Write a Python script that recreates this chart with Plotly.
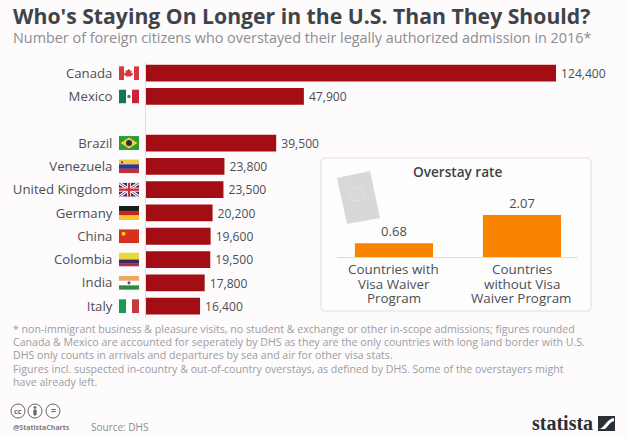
import base64
import plotly.graph_objects as go

W, H = 629, 438
countries = ["Canada", "Mexico", "Brazil", "Venezuela", "United Kingdom", "Germany",
             "China", "Colombia", "India", "Italy"]
overstays = [124400, 47900, 39500, 23800, 23500, 20200, 19600, 19500, 17800, 16400]
row_order = ["Canada", "Mexico", " ", "Brazil", "Venezuela", "United Kingdom", "Germany",
             "China", "Colombia", "India", "Italy"]
rate_groups = ["With VWP", "Without VWP"]
rate_group_lines = [["Countries with", "Visa Waiver", "Program"], ["Countries", "without Visa", "Waiver Program"]]
rates = [0.68, 2.07]
title = "Who's Staying On Longer in the U.S. Than They Should?"
subtitle = "Number of foreign citizens who overstayed their legally authorized admission in 2016*"
footnotes = [
    "* non-immigrant business &amp; pleasure visits, no student &amp; exchange or other in-scope admissions; figures rounded",
    "Canada &amp; Mexico are accounted for seperately by DHS as they are the only countries with long land border with U.S.",
    "DHS only counts in arrivals and departures by sea and air for other visa stats.",
    "Figures incl. suspected in-country &amp; out-of-country overstays, as defined by DHS. Some of the overstayers might",
    "have already left.",
]

FONT = "Open Sans"
def px(x): return x / W
def py(y): return 1 - y / H

def svg_uri(body, w=20, h=14):
    s = f'<svg xmlns="http://www.w3.org/2000/svg" width="{w}" height="{h}" viewBox="0 0 {w} {h}" preserveAspectRatio="none">{body}</svg>'
    return "data:image/svg+xml;base64," + base64.b64encode(s.encode()).decode()

def r(x, y, w, h, c): return f'<rect x="{x}" y="{y}" width="{w}" height="{h}" fill="{c}"/>'

flags = {
    "Canada": r(0,0,20,14,"#fff")+r(0,0,5,14,"#d8383f")+r(15,0,5,14,"#d8383f")+'<path d="M10 2.5l1.2 2 1.4-.5-.5 3 1.9-.6-.6 1.7.9.6-3 1.6h-3.6l-3-1.6.9-.6-.6-1.7 1.9.6-.5-3 1.4.5z" fill="#d8383f"/>',
    "Mexico": r(0,0,7,14,"#0f7a50")+r(7,0,6,14,"#fff")+r(13,0,7,14,"#c8223d")+'<circle cx="10" cy="7" r="1.7" fill="#7a6a3c"/>',
    "Brazil": r(0,0,20,14,"#2f9a3a")+'<path d="M10 1.5L18.5 7 10 12.5 1.5 7z" fill="#f4d622"/><circle cx="10" cy="7" r="3" fill="#1f2f5c"/>',
    "Venezuela": r(0,0,20,5,"#eccb42")+r(0,5,20,4.5,"#34348e")+r(0,9.5,20,4.5,"#c62b3c")+'<circle cx="3" cy="3" r="1.1" fill="#34348e"/>',
    "United Kingdom": r(0,0,20,14,"#2a3470")+'<path d="M0 0L20 14M20 0L0 14" stroke="#fff" stroke-width="3"/><path d="M0 0L20 14M20 0L0 14" stroke="#c8323f" stroke-width="1"/>'+r(8,0,4,14,"#fff")+r(0,5,20,4,"#fff")+r(8.8,0,2.4,14,"#c8323f")+r(0,5.8,20,2.4,"#c8323f"),
    "Germany": r(0,0,20,5,"#1c1c1c")+r(0,5,20,4.5,"#c9251c")+r(0,9.5,20,4.5,"#f6c42c"),
    "China": r(0,0,20,14,"#d5311f")+'<circle cx="4.5" cy="4.5" r="2" fill="#f4d020"/>',
    "Colombia": r(0,0,20,7,"#ecd73c")+r(0,7,20,3.5,"#3b2a60")+r(0,10.5,20,3.5,"#b82a48"),
    "India": r(0,0,20,5,"#eda868")+r(0,5,20,4.5,"#fff")+r(0,9.5,20,4.5,"#2f8a3c")+'<circle cx="10" cy="7" r="1.6" fill="#4a5a80"/>',
    "Italy": r(0,0,7,14,"#169a56")+r(7,0,6,14,"#fff")+r(13,0,7,14,"#c23a44"),
}
ROW_TOP, ROW_H = 61.5, 23.3

images = []
for i, c in enumerate(row_order):
    if c in flags:
        yc = ROW_TOP + ROW_H * (i + 0.5)
        images.append(dict(source=svg_uri(flags[c]), xref="paper", yref="paper", x=px(119), y=py(yc - 7),
                           sizex=20 / W, sizey=14 / H, sizing="stretch", xanchor="left", yanchor="top", layer="above"))
passport = ('<path d="M0 7L33 0L43 47L10 53z" fill="#d8d8da"/>'
            '<circle cx="20" cy="23" r="7" fill="none" stroke="#e4e4e6" stroke-width="1"/>')
images.append(dict(source=svg_uri(passport, 43, 53), xref="paper", yref="paper", x=px(337), y=py(171),
                   sizex=43 / W, sizey=53 / H, sizing="stretch", xanchor="left", yanchor="top", layer="above"))
person = '<circle cx="7" cy="3.6" r="1.4" fill="#666"/><rect x="5.4" y="5.4" width="3.2" height="6" rx="0.8" fill="#666"/>'
images.append(dict(source=svg_uri(person, 14, 14), xref="paper", yref="paper", x=px(28), y=py(404),
                   sizex=14 / W, sizey=14 / H, sizing="stretch", xanchor="left", yanchor="top", layer="above"))
logo = '<rect width="17" height="15" fill="#2a2f36"/><path d="M1 13C6 13 8 3 16 2L16 5C11 6 9 13 6 13z" fill="#fff"/>'
images.append(dict(source=svg_uri(logo, 17, 15), xref="paper", yref="paper", x=px(598), y=py(416),
                   sizex=17 / W, sizey=15 / H, sizing="stretch", xanchor="left", yanchor="top", layer="above"))

fig = go.Figure()
fig.add_trace(go.Bar(y=countries, x=overstays, orientation="h", marker=dict(color="#a30d14", line_width=0),
                     width=0.72, text=[f"\u2009{v:,}" for v in overstays],
                     textposition="outside", cliponaxis=False,
                     textfont=dict(family=FONT, size=13, color="#4c4f55"), xaxis="x", yaxis="y", showlegend=False))
fig.add_trace(go.Bar(x=rate_groups, y=rates, marker=dict(color="#f98400", line_width=0), width=0.61,
                     text=[f"{v:.2f}" for v in rates], textposition="outside", cliponaxis=False,
                     textfont=dict(family=FONT, size=13, color="#4c4f55"), xaxis="x2", yaxis="y2", showlegend=False))

def note(x, y, text, size=12, color="#4c4f55", anchor="left", family=FONT, weight=None):
    f = dict(family=family, size=size, color=color)
    if weight:
        f["weight"] = weight
    return dict(xref="paper", yref="paper", x=px(x), y=py(y), text=text, showarrow=False, xanchor=anchor,
                yanchor="middle", font=f, align=anchor)

annotations = [
    note(11, 15, f"<b>{title}</b>", 21.2, "#404348"),
    note(11, 37.5, subtitle, 14.4, "#8b8d92"),
    note(457, 171, "Overstay rate", 13.6, "#3f4247", "center", weight=600),
    note(89, 427, "Source: DHS", 10, "#8a8c90"),
    note(11, 427, "<b>@StatistaCharts</b>", 7, "#7b7d82"),
    note(18, 411, "<b>cc</b>", 7.5, "#666", "center"),
    note(53, 410.5, "<b>=</b>", 9, "#666", "center"),
    note(595, 423, "<b>statista</b>", 20, "#2a2f36", "right", family="Liberation Sans Narrow"),
]
for i, line in enumerate(footnotes):
    annotations.append(note(11, 329 + i * 13.2, line, 10.6, "#9c9da1"))
for group, lines in zip(rate_groups, rate_group_lines):
    for i, line in enumerate(lines):
        a = note(0, 269 + i * 14.6, line, 13.4, "#4c4f55", "center")
        a.update(xref="x2", x=group)
        annotations.append(a)

L, T, R_, B, C = px(321), py(158), px(591), py(311), 5
cx_, cy_ = C / W, C / H
panel = (f"M{L+cx_},{T} L{R_-cx_},{T} Q{R_},{T} {R_},{T-cy_} L{R_},{B+cy_} Q{R_},{B} {R_-cx_},{B} "
         f"L{L+cx_},{B} Q{L},{B} {L},{B+cy_} L{L},{T-cy_} Q{L},{T} {L+cx_},{T} Z")
shapes = [dict(type="path", xref="paper", yref="paper", path=panel,
               line=dict(color="#e8e0e4", width=1.2), fillcolor="#fefdfe", layer="below")]
for cx in (18, 35, 53):
    shapes.append(dict(type="circle", xref="paper", yref="paper", x0=px(cx - 7), x1=px(cx + 7),
                       y0=py(404), y1=py(418), line=dict(color="#666", width=1), fillcolor="rgba(0,0,0,0)"))

fig.update_layout(
    width=W, height=H, margin=dict(l=0, r=0, t=0, b=0), autosize=False,
    paper_bgcolor="#fdfbfc", plot_bgcolor="rgba(0,0,0,0)",
    annotations=annotations, shapes=shapes, images=images,
    xaxis=dict(domain=[px(146), 1], range=[0, 146550], visible=False, fixedrange=True),
    yaxis=dict(domain=[py(ROW_TOP + ROW_H * len(row_order)), py(ROW_TOP)], type="category",
               categoryorder="array", categoryarray=row_order, range=[len(row_order) - 0.5, -0.5],
               tickmode="array", tickvals=countries, ticktext=countries,
               anchor="x", showgrid=False, zeroline=False, showline=True, linecolor="#dddbdc", linewidth=1,
               ticks="outside", ticklen=30, tickcolor="rgba(0,0,0,0)",
               tickfont=dict(family=FONT, size=13.2, color="#4c4f55")),
    xaxis2=dict(domain=[px(337), px(578)], range=[-0.445, 1.4375], anchor="y2", type="category",
                categoryorder="array", categoryarray=rate_groups, showgrid=False, zeroline=False,
                showline=True, linecolor="#dcdadb", linewidth=1, ticks="", showticklabels=False),
    yaxis2=dict(domain=[py(257), py(200)], range=[0, 2.81], anchor="x2", visible=False),
)
fig.write_html("out.html", config=dict(displayModeBar=False),
               post_script="document.body.style.margin='0';document.documentElement.style.overflow='hidden';")
